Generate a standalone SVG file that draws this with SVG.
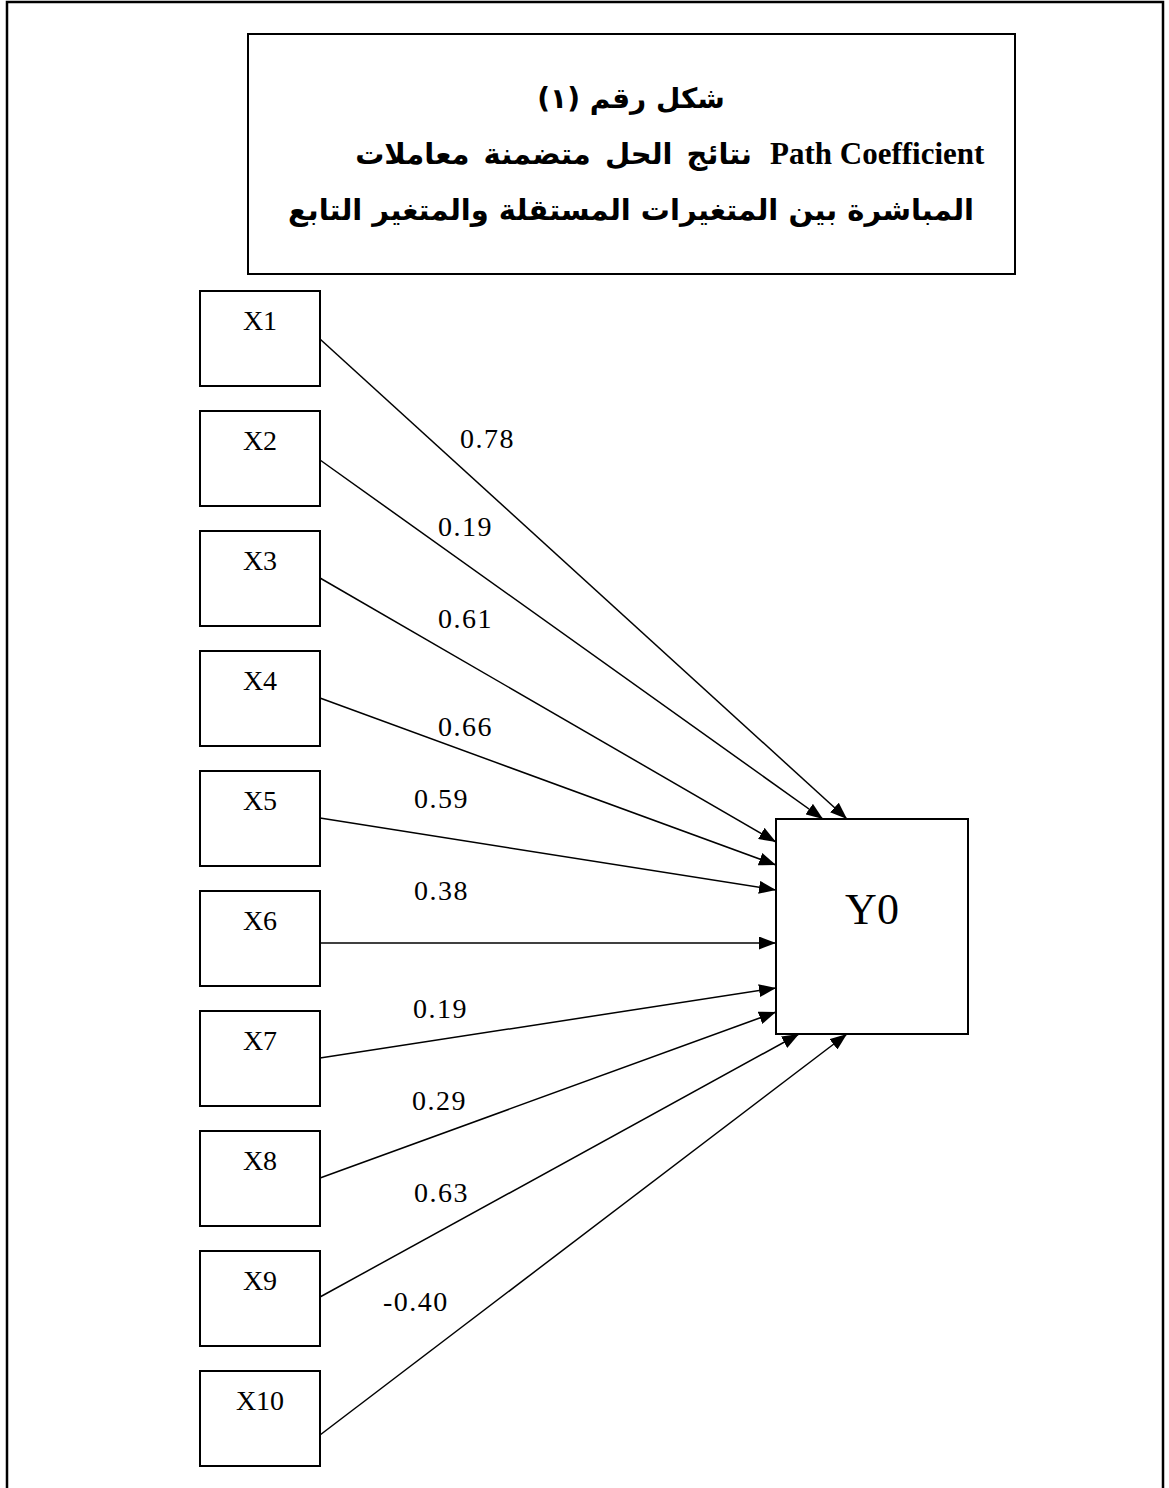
<svg xmlns="http://www.w3.org/2000/svg" width="1169" height="1488" viewBox="0 0 1169 1488">
<style>
.box{fill:#fff;stroke:#000;stroke-width:2}
.frame{fill:none;stroke:#000;stroke-width:2.5}
.lbl{font-family:"Liberation Serif","Times New Roman",serif;font-size:28px;fill:#000;text-anchor:middle}
.num{font-family:"Liberation Serif","Times New Roman",serif;font-size:28px;letter-spacing:1.5px;fill:#000}
.title{font-family:"DejaVu Sans","Liberation Sans",sans-serif;font-weight:bold;font-size:29px;fill:#000}
.latin{font-family:"Liberation Serif","Times New Roman",serif;font-weight:bold;font-size:31px;fill:#000}
.edge{stroke:#000;stroke-width:1.5;fill:none;marker-end:url(#ah)}
</style>
<defs>
<marker id="ah" viewBox="0 0 17 13" refX="17" refY="6.5" markerWidth="17" markerHeight="13" markerUnits="userSpaceOnUse" orient="auto">
<path d="M0,0 L17,6.5 L0,13 Z" fill="#000"/>
</marker>
</defs>
<rect width="1169" height="1488" fill="#fff"/>
<path class="frame" d="M7,1500 L7,2 L1163,2 L1163,1500"/>
<g id="title">
<rect class="box" x="248" y="34" width="767" height="240"/>
<text class="title" x="631" y="108" direction="rtl" text-anchor="middle" style="font-size:28px">شكل رقم (١)</text>
<text class="title" x="752" y="164" direction="rtl" text-anchor="start" style="word-spacing:4px">نتائج الحل متضمنة معاملات</text>
<text class="latin" x="770" y="164">Path Coefficient</text>
<text class="title" x="631" y="220" direction="rtl" text-anchor="middle">المباشرة بين المتغيرات المستقلة والمتغير التابع</text>
</g>
<g id="X1"><rect class="box" x="200" y="291" width="120" height="95"/><text class="lbl" x="260" y="330">X1</text></g>
<g id="X2"><rect class="box" x="200" y="411" width="120" height="95"/><text class="lbl" x="260" y="450">X2</text></g>
<g id="X3"><rect class="box" x="200" y="531" width="120" height="95"/><text class="lbl" x="260" y="570">X3</text></g>
<g id="X4"><rect class="box" x="200" y="651" width="120" height="95"/><text class="lbl" x="260" y="690">X4</text></g>
<g id="X5"><rect class="box" x="200" y="771" width="120" height="95"/><text class="lbl" x="260" y="810">X5</text></g>
<g id="X6"><rect class="box" x="200" y="891" width="120" height="95"/><text class="lbl" x="260" y="930">X6</text></g>
<g id="X7"><rect class="box" x="200" y="1011" width="120" height="95"/><text class="lbl" x="260" y="1050">X7</text></g>
<g id="X8"><rect class="box" x="200" y="1131" width="120" height="95"/><text class="lbl" x="260" y="1170">X8</text></g>
<g id="X9"><rect class="box" x="200" y="1251" width="120" height="95"/><text class="lbl" x="260" y="1290">X9</text></g>
<g id="X10"><rect class="box" x="200" y="1371" width="120" height="95"/><text class="lbl" x="260" y="1410">X10</text></g>
<g id="Y0"><rect class="box" x="776" y="819" width="192" height="215"/><text class="lbl" x="872" y="924" style="font-size:44px">Y0</text></g>
<g id="connectors">
<line class="edge" x1="320" y1="339" x2="847" y2="819"/>
<line class="edge" x1="320" y1="460" x2="823" y2="819"/>
<line class="edge" x1="320" y1="578" x2="776" y2="842"/>
<line class="edge" x1="320" y1="698" x2="776" y2="865"/>
<line class="edge" x1="320" y1="818" x2="776" y2="890"/>
<line class="edge" x1="320" y1="943" x2="776" y2="943"/>
<line class="edge" x1="320" y1="1058" x2="776" y2="988"/>
<line class="edge" x1="320" y1="1178" x2="776" y2="1012"/>
<line class="edge" x1="320" y1="1297" x2="799" y2="1034"/>
<line class="edge" x1="320" y1="1435" x2="847" y2="1034"/>
</g>
<g id="labels">
<text class="num" x="460" y="448">0.78</text>
<text class="num" x="438" y="536">0.19</text>
<text class="num" x="438" y="628">0.61</text>
<text class="num" x="438" y="736">0.66</text>
<text class="num" x="414" y="808">0.59</text>
<text class="num" x="414" y="900">0.38</text>
<text class="num" x="413" y="1018">0.19</text>
<text class="num" x="412" y="1110">0.29</text>
<text class="num" x="414" y="1202">0.63</text>
<text class="num" x="383" y="1311">-0.40</text>
</g>
</svg>
